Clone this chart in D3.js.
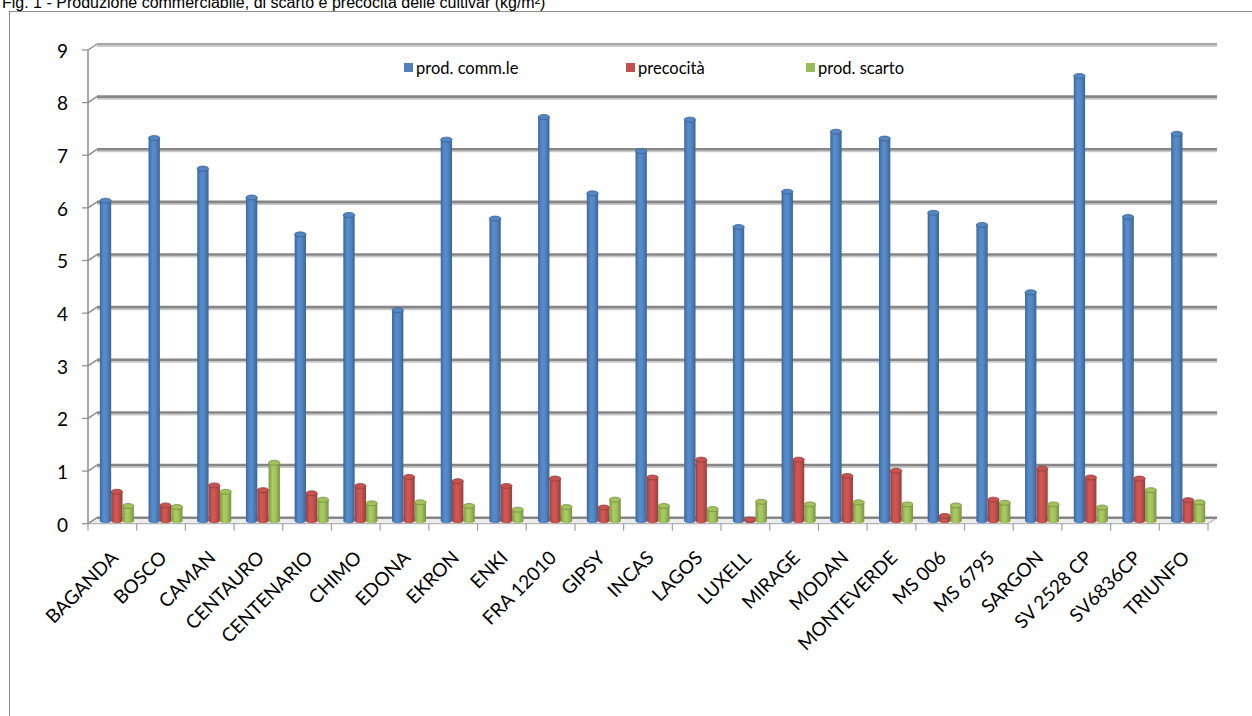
<!DOCTYPE html>
<html>
<head>
<meta charset="utf-8">
<script src="https://cdn.jsdelivr.net/npm/d3@7"></script>
<style>
  body { margin: 0; background: #fff; }
  text { font-family: Lato, "Open Sans", sans-serif; fill: #000; }
</style>
</head>
<body>
<svg id="chart" width="1252" height="716"></svg>
<script>
// cultivar data (kg/m2)

const categories = ['BAGANDA', 'BOSCO', 'CAMAN', 'CENTAURO', 'CENTENARIO', 'CHIMO', 'EDONA',
  'EKRON', 'ENKI', 'FRA 12010', 'GIPSY', 'INCAS', 'LAGOS', 'LUXELL', 'MIRAGE', 'MODAN',
  'MONTEVERDE', 'MS 006', 'MS 6795', 'SARGON', 'SV 2528 CP', 'SV6836CP', 'TRIUNFO'];

const prodComm = [6.08, 7.27, 6.69, 6.14, 5.44, 5.81, 4.00, 7.24, 5.74, 7.67, 6.22, 7.02,
  7.62, 5.58, 6.25, 7.39, 7.26, 5.85, 5.62, 4.34, 8.45, 5.77, 7.35];
const precocita = [0.55, 0.29, 0.67, 0.58, 0.52, 0.66, 0.83, 0.75, 0.66, 0.80, 0.25, 0.82,
  1.16, 0.02, 1.16, 0.85, 0.95, 0.09, 0.40, 0.99, 0.82, 0.80, 0.39];
const prodScarto = [0.28, 0.26, 0.55, 1.10, 0.40, 0.33, 0.35, 0.28, 0.21, 0.26, 0.40, 0.28,
  0.22, 0.36, 0.31, 0.35, 0.31, 0.29, 0.34, 0.31, 0.25, 0.58, 0.35];

const seriesNames = ['prod. comm.le', 'precocità', 'prod. scarto'];
const seriesColors = ['#4f81bd', '#c0504d', '#9bbb59']; // excel 2007 palette
const yTicks = [0, 1, 2, 3, 4, 5, 6, 7, 8, 9];

const titleText = 'Fig. 1 - Produzione commerciabile, di scarto e precocità delle cultivar (kg/m²)';

const series = [prodComm, precocita, prodScarto];

const svg = d3.select('#chart');

// fake 3d: back wall is shifted right/up from the front edge
const depthX = 9,
      depthY = -6;

const x = d3.scaleBand().domain(categories).range([88, 1208]);
const y = d3.scaleLinear().domain([0, 9]).range([517.7, 44]); // back wall
const x1 = d3.scaleBand().domain(d3.range(series.length)).range([0, 34]);

// title (cut at the top of the page, like the original scan)
svg.append('text')
  .attr('x', 2)
  .attr('y', 7.5)
  .style('font-family', '"Liberation Sans", Arial, sans-serif')
  .attr('font-size', '16px')
  .text(titleText);

// chart frame
svg.append('rect')
  .attr('x', 9.5).attr('y', 11.5)
  .attr('width', 1260).attr('height', 720)
  .attr('fill', 'none')
  .attr('stroke', '#8c8c8c');

/*************************************************************/

// gradients for the cylinders

const defs = svg.append('defs');
seriesColors.forEach(function(c, i) {
  const g = defs.append('linearGradient')
    .attr('id', 'cyl' + i)
    .attr('x1', '0%').attr('x2', '100%');
  const base = d3.color(c);
  g.append('stop').attr('offset', '0%').attr('stop-color', base.darker(0.6));
  g.append('stop').attr('offset', '35%').attr('stop-color', base.brighter(0.25));
  g.append('stop').attr('offset', '60%').attr('stop-color', base.brighter(0.15));
  g.append('stop').attr('offset', '100%').attr('stop-color', base.darker(0.7));
});

// floor
const x0 = x.range()[0], xEnd = x.range()[1];
svg.append('polygon')
  .attr('points', [[x0, y(0) - depthY], [xEnd, y(0) - depthY],
    [xEnd + depthX, y(0)], [x0 + depthX, y(0)]].join(' '))
  .attr('fill', '#ececec')
  .attr('stroke', '#a6a6a6')
  .attr('stroke-width', 1);

// back wall gridlines
const grid = svg.append('g');
yTicks.forEach(function(t) {
  if (t === 0) return;
  grid.append('line')
    .attr('x1', x0 + depthX).attr('x2', xEnd + depthX)
    .attr('y1', y(t) + 2).attr('y2', y(t) + 2)
    .attr('stroke', '#c9c9c9').attr('stroke-width', 2);
  grid.append('line')
    .attr('x1', x0 + depthX).attr('x2', xEnd + depthX)
    .attr('y1', y(t)).attr('y2', y(t))
    .attr('stroke', t === 9 ? '#a5a5a5' : '#868686')
    .attr('stroke-width', t === 9 ? 2 : 2.6);
});
grid.append('line')
  .attr('x1', x0 + depthX).attr('x2', xEnd + depthX)
  .attr('y1', y(0)).attr('y2', y(0))
  .attr('stroke', '#868686').attr('stroke-width', 2.4);

// left side wall: axis line, diagonals, ticks, labels
const yAxis = svg.append('g');
yAxis.append('line')
  .attr('x1', x0).attr('x2', x0)
  .attr('y1', y(9) - depthY).attr('y2', y(0) - depthY)
  .attr('stroke', '#8c8c8c').attr('stroke-width', 1.5);
yTicks.forEach(function(t) {
  yAxis.append('line')
    .attr('x1', x0).attr('y1', y(t) - depthY)
    .attr('x2', x0 + depthX).attr('y2', y(t))
    .attr('stroke', '#8c8c8c').attr('stroke-width', 1.5);
  yAxis.append('line')
    .attr('x1', x0 - 6).attr('x2', x0)
    .attr('y1', y(t) - depthY).attr('y2', y(t) - depthY)
    .attr('stroke', '#8c8c8c').attr('stroke-width', 1.2);
  yAxis.append('text')
    .attr('x', 68)
    .attr('y', y(t) - depthY + 1)
    .attr('dy', '0.36em')
    .attr('text-anchor', 'end')
    .attr('font-size', '19px')
    .text(t);
});

// category ticks on the front edge
const xAxis = svg.append('g');
d3.range(categories.length + 1).forEach(function(i) {
  const xx = x0 + i * x.step();
  xAxis.append('line')
    .attr('x1', xx).attr('x2', xx)
    .attr('y1', y(0) - depthY).attr('y2', y(0) - depthY + 7)
    .attr('stroke', '#a0a0a0').attr('stroke-width', 1.2);
});
xAxis.selectAll('text.cat')
  .data(categories)
  .join('text')
  .attr('class', 'cat')
  .attr('text-anchor', 'end')
  .attr('font-size', '19px')
  .attr('transform', d => 'translate(' + (x(d) + x.bandwidth() / 2 + 7) + ',' + 559 + ') rotate(-45)')
  .text(d => d);

/*************************************************************/

// cylinders, sitting half way into the depth
const yMid = v => y(v) - depthY / 2;
const bars = svg.append('g');

categories.forEach(function(cat, ci) {
  series.forEach(function(vals, si) {
    const v = vals[ci];
    const w = x1.bandwidth();
    const left = x(cat) + x.bandwidth() / 2 - 17 + depthX / 2 + x1(si);
    const cx = left + w / 2;
    const base = d3.color(seriesColors[si]);
    const top = yMid(v), bottom = yMid(0);

    bars.append('ellipse')
      .attr('cx', cx).attr('cy', bottom)
      .attr('rx', w / 2).attr('ry', 2.5)
      .attr('fill', `url(#cyl${si})`);
    bars.append('rect')
      .attr('x', left).attr('y', top)
      .attr('width', w).attr('height', Math.max(0, bottom - top))
      .attr('fill', `url(#cyl${si})`);
    bars.append('ellipse')
      .attr('cx', cx).attr('cy', top)
      .attr('rx', w / 2).attr('ry', 2.5)
      .attr('fill', base.brighter(0.1))
      .attr('stroke', base.darker(0.8))
      .attr('stroke-width', 0.8);
  });
});

// legend
const legendX = [404, 626, 806];
const legend = svg.append('g');
seriesNames.forEach(function(name, i) {
  legend.append('rect')
    .attr('x', legendX[i]).attr('y', 63)
    .attr('width', 9).attr('height', 9)
    .attr('fill', seriesColors[i]);
  legend.append('text')
    .attr('x', legendX[i] + 12)
    .attr('y', 68)
    .attr('dy', '0.35em')
    .attr('font-size', '16.5px')
    .text(name);
});
</script>
</body>
</html>
